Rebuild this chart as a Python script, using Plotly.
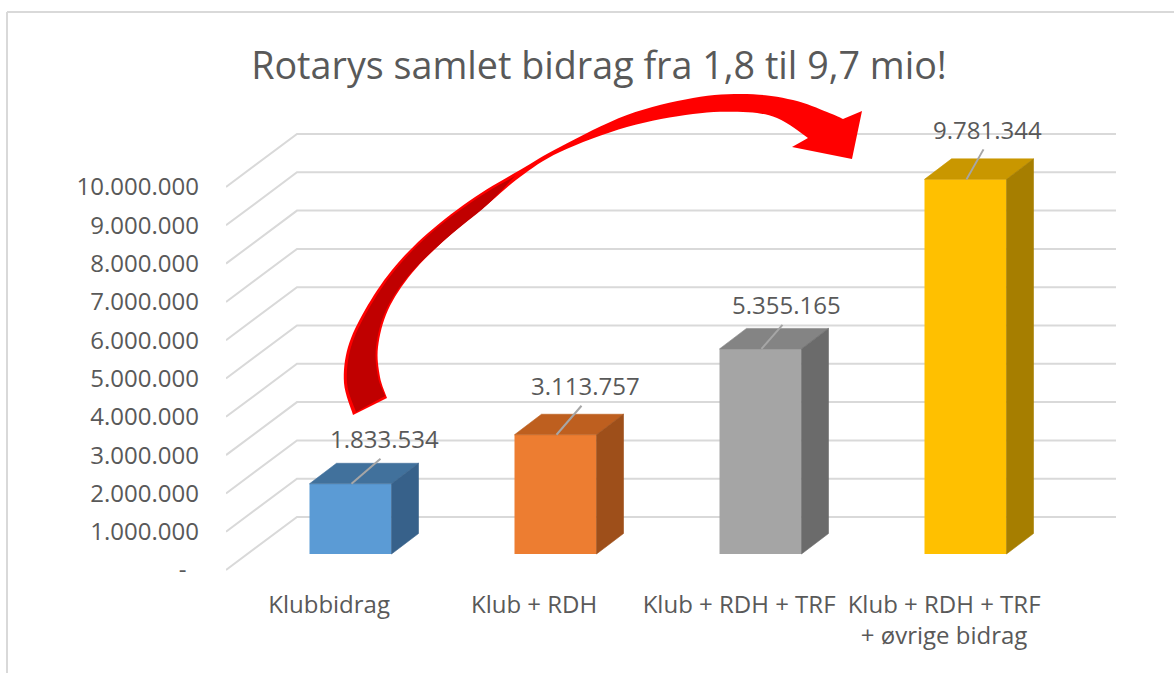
import plotly.graph_objects as go

# ---------------- data ----------------
categories = ["Klubbidrag", "Klub + RDH", "Klub + RDH + TRF", "Klub + RDH + TRF<br>+ øvrige bidrag"]
values = [1833534, 3113757, 5355165, 9781344]
y_ticks = [0, 1000000, 2000000, 3000000, 4000000, 5000000, 6000000, 7000000, 8000000, 9000000, 10000000]
title_text = "Rotarys samlet bidrag fra 1,8 til 9,7 mio!"

# ---------------- styles ----------------
front_colors = ["#5B9BD5", "#ED7D31", "#A5A5A5", "#FFC000"]
top_colors = ["#41719C", "#BE5F1F", "#848484", "#C99700"]
side_colors = ["#37618A", "#9E4F1A", "#6B6B6B", "#A67E00"]
TEXT = "#595959"
GRID = "#D9D9D9"
FONT = "Open Sans"

W, H = 1174, 673
PLOT_L, PLOT_R, PLOT_T, PLOT_B = 226, 1116, 100, 580
PX_PER_CAT = 205.0
PX_PER_UNIT = 38.3 / 1e6
BAR0_PX = 350.5
BASE_PX = 554.0


def xd(px):
    return (px - BAR0_PX) / PX_PER_CAT


def yd(py):
    return (BASE_PX - py) / PX_PER_UNIT


def dxd(dpx):
    return dpx / PX_PER_CAT


def dyd(dpy):
    return -dpy / PX_PER_UNIT


def pxp(px):
    return (px - PLOT_L) / (PLOT_R - PLOT_L)


def pyp(py):
    return (PLOT_B - py) / (PLOT_B - PLOT_T)


BAR_W = 82 / PX_PER_CAT
DEPTH_X = dxd(27)
DEPTH_Y = dyd(-20.5)

fig = go.Figure()

xs = list(range(len(values)))
fig.add_trace(go.Bar(x=xs, y=values, width=BAR_W, marker=dict(color=front_colors, line=dict(width=0)),
                     hoverinfo="skip", showlegend=False))

# 3D faces
for i, v in enumerate(values):
    w = BAR_W / 2
    tx = [i - w, i + w, i + w + DEPTH_X, i - w + DEPTH_X, i - w]
    ty = [v, v, v + DEPTH_Y, v + DEPTH_Y, v]
    fig.add_trace(go.Scatter(x=tx, y=ty, mode="lines", fill="toself", fillcolor=top_colors[i],
                             line=dict(width=0.6, color=top_colors[i]), hoverinfo="skip", showlegend=False))
    sx = [i + w, i + w + DEPTH_X, i + w + DEPTH_X, i + w, i + w]
    sy = [0, DEPTH_Y, v + DEPTH_Y, v, 0]
    fig.add_trace(go.Scatter(x=sx, y=sy, mode="lines", fill="toself", fillcolor=side_colors[i],
                             line=dict(width=0.6, color=side_colors[i]), hoverinfo="skip", showlegend=False))

# gridlines (3D wall): front-left end -> back corner -> along back wall
shapes = []
x_left, x_corner, x_right = xd(PLOT_L), xd(297), xd(PLOT_R)
front_off, back_off = dyd(16), dyd(-37)
for t in y_ticks:
    path = f"M {x_left},{t + front_off} L {x_corner},{t + back_off} L {x_right},{t + back_off}"
    shapes.append(dict(type="path", path=path, xref="x", yref="y", layer="below",
                       line=dict(color=GRID, width=2)))

# data labels with leader lines
label_dx_px = [34, 30, 26, 22]
label_dy_px = [-45, -49, -44, -50]
annotations = []
for i, v in enumerate(values):
    lx = i + dxd(label_dx_px[i])
    ly = v + dyd(label_dy_px[i])
    ex = lx + dxd(-4)
    ey = ly + dyd(20)
    fig.add_trace(go.Scatter(x=[i + dxd(1), ex], y=[v, ey], mode="lines",
                             line=dict(color="#A6A6A6", width=2), hoverinfo="skip", showlegend=False))
    annotations.append(dict(x=lx, y=ly, xref="x", yref="y", text=f"{v:,}".replace(",", "."),
                            showarrow=False, font=dict(family=FONT, size=24, color=TEXT),
                            xanchor="center", yanchor="middle"))


# red curved arrow (decoration)
def catmull(pts, n=8):
    out = []
    for k in range(len(pts) - 1):
        p0 = pts[k - 1] if k > 0 else pts[k]
        p1, p2 = pts[k], pts[k + 1]
        p3 = pts[k + 2] if k + 2 < len(pts) else pts[k + 1]
        for s in range(n):
            t = s / n
            t2, t3 = t * t, t * t * t
            x = 0.5 * ((2 * p1[0]) + (-p0[0] + p2[0]) * t + (2 * p0[0] - 5 * p1[0] + 4 * p2[0] - p3[0]) * t2
                       + (-p0[0] + 3 * p1[0] - 3 * p2[0] + p3[0]) * t3)
            y = 0.5 * ((2 * p1[1]) + (-p0[1] + p2[1]) * t + (2 * p0[1] - 5 * p1[1] + 4 * p2[1] - p3[1]) * t2
                       + (-p0[1] + 3 * p1[1] - 3 * p2[1] + p3[1]) * t3)
            out.append((x, y))
    out.append(pts[-1])
    return out


outer = [(353, 415), (344, 383), (348, 347), (365, 310), (392, 270), (428, 233), (475, 197), (520, 170),
         (560, 147), (627, 115), (693, 98), (747, 94), (793, 100), (827, 112), (843, 119)]
head = [(862, 111), (852, 159), (792, 147), (808, 138)]
inner = [(808, 138), (777, 118), (743, 112), (693, 114), (627, 127), (560, 152), (520, 177), (488, 204),
         (448, 237), (412, 273), (388, 310), (378, 347), (380, 377), (387, 398)]
poly = catmull(outer) + head + catmull(inner)[1:]


def to_path(pts):
    s = "M " + " L ".join(f"{pxp(x):.5f},{pyp(y):.5f}" for x, y in pts) + " Z"
    return s


shapes.append(dict(type="path", path=to_path(poly), xref="paper", yref="paper", layer="above",
                   fillcolor="#FF0000", line=dict(width=0)))
dark_outer = [(356, 412), (347, 383), (351, 347), (368, 310), (395, 270), (431, 233), (476, 199), (515, 176)]
dark_inner = [(515, 176), (487, 205), (447, 238), (410, 274), (386, 310), (376, 347), (378, 377), (385, 396)]
dark = catmull(dark_outer) + catmull(dark_inner)[1:]
shapes.append(dict(type="path", path=to_path(dark), xref="paper", yref="paper", layer="above",
                   fillcolor="#C00000", line=dict(width=0)))

# outer chart border (top & left)
shapes.append(dict(type="line", xref="paper", yref="paper", x0=pxp(7), x1=pxp(1180), y0=pyp(12), y1=pyp(12),
                   line=dict(color=GRID, width=2)))
shapes.append(dict(type="line", xref="paper", yref="paper", x0=pxp(7), x1=pxp(7), y0=pyp(12), y1=pyp(690),
                   line=dict(color=GRID, width=2)))

y_ticktext = ["-\u00a0\u00a0" if t == 0 else f"{t:,}".replace(",", ".") for t in y_ticks]

fig.update_layout(
    width=W, height=H, autosize=False,
    margin=dict(l=PLOT_L, r=W - PLOT_R, t=PLOT_T, b=H - PLOT_B, pad=0),
    paper_bgcolor="white", plot_bgcolor="white",
    showlegend=False, hovermode=False,
    title=dict(text=title_text, x=599 / W, xref="container", xanchor="center",
               y=1 - 66 / H, yref="container", yanchor="middle",
               font=dict(family=FONT, size=37.7, color=TEXT)),
    xaxis=dict(range=[xd(PLOT_L), xd(PLOT_R)], showgrid=False, zeroline=False, showline=False,
               tickmode="array", tickvals=[i + dxd(-21.4) for i in xs], ticktext=categories,
               tickfont=dict(family=FONT, size=24, color=TEXT), ticks="", ticklabelstandoff=8,
               fixedrange=True),
    yaxis=dict(range=[yd(PLOT_B), yd(PLOT_T)], showgrid=False, zeroline=False, showline=False,
               tickmode="array", tickvals=[t + front_off for t in y_ticks], ticktext=y_ticktext,
               tickfont=dict(family=FONT, size=24, color=TEXT), ticks="", ticklabelstandoff=26,
               fixedrange=True),
    shapes=shapes,
    annotations=annotations,
    font=dict(family=FONT, color=TEXT),
)

fig.write_html("out.html", config={"displayModeBar": False},
               post_script="document.body.style.margin='0';document.body.style.overflow='hidden';")
